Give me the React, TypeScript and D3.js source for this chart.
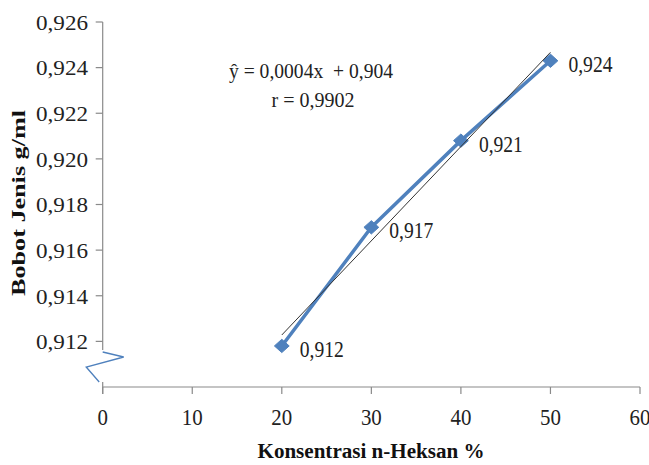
import React from "react";
import * as d3 from "d3";

const concentrations = [20, 30, 40, 50];
const densities = [0.9118, 0.917, 0.9208, 0.9243];
const pointLabels = ["0,912", "0,917", "0,921", "0,924"];
const yTickValues = [0.912, 0.914, 0.916, 0.918, 0.92, 0.922, 0.924, 0.926];
const xTickValues = [0, 10, 20, 30, 40, 50, 60];
const equationLine1 = "ŷ = 0,0004x\u00a0 + 0,904";
const equationLine2 = "r = 0,9902";
const xTitle = "Konsentrasi n-Heksan %";
const yTitle = "Bobot Jenis g/ml";

const W = 649;
const H = 465;
const serif = "'Liberation Serif', 'Times New Roman', serif";
const blue = "#4F81BD";
const axisColor = "#8a8a8a";

// wide diamond symbol (Excel style)
const wideDiamond = {
  draw(ctx: any, size: number) {
    const hw = Math.sqrt(size) * 0.78;
    const hh = hw * 0.9;
    ctx.moveTo(0, -hh);
    ctx.lineTo(hw, 0);
    ctx.lineTo(0, hh);
    ctx.lineTo(-hw, 0);
    ctx.closePath();
  },
};

export default function App() {
  const x = d3.scaleLinear().domain([0, 60]).range([102.7, 640]);
  const y = d3.scaleLinear().domain([0.91, 0.926]).range([387, 22]);

  const mx = d3.mean(concentrations) as number;
  const my = d3.mean(densities) as number;
  let sxy = 0,
    sxx = 0;
  concentrations.forEach((c, i) => {
    sxy += (c - mx) * (densities[i] - my);
    sxx += (c - mx) * (c - mx);
  });
  const slope = sxy / sxx;
  const intercept = my - slope * mx;
  const x0 = d3.min(concentrations) as number;
  const x1 = d3.max(concentrations) as number;

  const pts = concentrations.map((c, i) => [x(c), y(densities[i])] as [number, number]);
  const line = d3.line()(pts) as string;
  const diamond = d3.symbol().type(wideDiamond as any).size(90)() as string;
  const fmtY = (v: number) => d3.format(".3f")(v).replace(".", ",");

  const xAxisY = y(0.91);
  const axisX = x(0);

  const breakPts: [number, number][] = [
    [axisX, 352],
    [axisX + 21, 357],
    [axisX - 16.5, 367],
    [axisX - 3.5, 382],
  ];

  return (
    <div style={{ position: "absolute", left: 0, top: 0 }}>
      <svg width={W} height={H} style={{ display: "block", background: "#fff" }}>
        <line x1={axisX} x2={axisX} y1={y(0.926)} y2={350} stroke={axisColor} strokeWidth={1.2} />
        <line x1={axisX} x2={axisX} y1={382} y2={xAxisY + 7} stroke={axisColor} strokeWidth={1.2} />
        {yTickValues.map((v) => (
          <g key={v}>
            <line x1={axisX - 7} x2={axisX} y1={y(v)} y2={y(v)} stroke={axisColor} strokeWidth={1.2} />
            <text
              x={88}
              y={y(v) + 7.8}
              textAnchor="end"
              fontFamily={serif}
              fontSize={22}
              textLength={52}
              lengthAdjust="spacingAndGlyphs"
              fill="#222"
            >
              {fmtY(v)}
            </text>
          </g>
        ))}
        <polyline
          points={breakPts.map((p) => p.join(",")).join(" ")}
          fill="none"
          stroke={blue}
          strokeWidth={1.3}
        />
        <line x1={axisX} x2={x(60)} y1={xAxisY} y2={xAxisY} stroke={axisColor} strokeWidth={1.2} />
        {xTickValues.map((v) => (
          <g key={v}>
            <line x1={x(v)} x2={x(v)} y1={xAxisY} y2={xAxisY + 7} stroke={axisColor} strokeWidth={1.2} />
            <text
              transform={`translate(${x(v)},${xAxisY + 38}) scale(0.87,1)`}
              textAnchor="middle"
              fontFamily={serif}
              fontSize={24}
              fill="#222"
            >
              {v}
            </text>
          </g>
        ))}
        <path d={line} fill="none" stroke={blue} strokeWidth={3.5} strokeLinejoin="round" />
        {pts.map((p, i) => (
          <path key={i} d={diamond} transform={`translate(${p[0]},${p[1]})`} fill={blue} stroke={blue} strokeWidth={1} />
        ))}
        <line
          x1={x(x0)}
          y1={y(intercept + slope * x0)}
          x2={x(x1)}
          y2={y(intercept + slope * x1)}
          stroke="#333"
          strokeWidth={1}
        />
        {pts.map((p, i) => (
          <text
            key={i}
            x={p[0] + 18}
            y={p[1] + 11}
            fontFamily={serif}
            fontSize={23}
            textLength={44}
            lengthAdjust="spacingAndGlyphs"
            fill="#222"
          >
            {pointLabels[i]}
          </text>
        ))}
        <text
          x={311}
          y={78}
          textAnchor="middle"
          fontFamily={serif}
          fontSize={22}
          textLength={164}
          lengthAdjust="spacingAndGlyphs"
          fill="#222"
        >
          {equationLine1}
        </text>
        <text
          x={313}
          y={106.5}
          textAnchor="middle"
          fontFamily={serif}
          fontSize={22}
          textLength={83}
          lengthAdjust="spacingAndGlyphs"
          fill="#222"
        >
          {equationLine2}
        </text>
        <text
          x={371}
          y={458}
          textAnchor="middle"
          fontFamily={serif}
          fontWeight="bold"
          fontSize={20}
          textLength={227}
          lengthAdjust="spacingAndGlyphs"
          fill="#111"
        >
          {xTitle}
        </text>
        <text
          transform="translate(25,203) rotate(-90)"
          textAnchor="middle"
          fontFamily={serif}
          fontWeight="bold"
          fontSize={18}
          textLength={186}
          lengthAdjust="spacingAndGlyphs"
          fill="#111"
        >
          {yTitle}
        </text>
      </svg>
    </div>
  );
}
